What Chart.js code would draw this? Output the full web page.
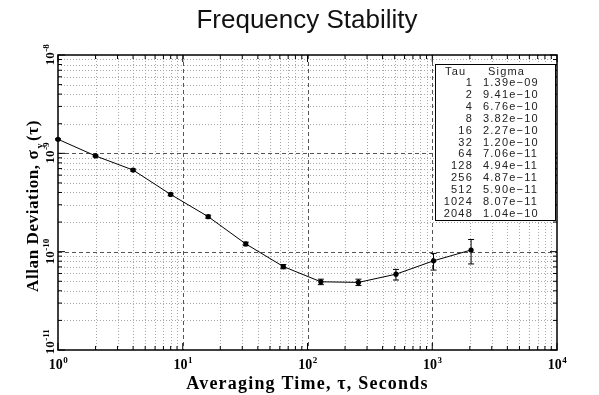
<!DOCTYPE html>
<html lang="en">
<head>
<meta charset="UTF-8">
<title>Frequency Stability</title>
<script src="https://cdn.jsdelivr.net/npm/chart.js@4.4.0/dist/chart.umd.min.js"></script>
<style>
  html, body { margin: 0; padding: 0; background: #fff; }
  canvas { display: block; }
</style>
</head>
<body>
<canvas id="chart" width="599" height="395"></canvas>
<script>
// averaging times and measured Allan deviation
const tau = [1, 2, 4, 8, 16, 32, 64, 128, 256, 512, 1024, 2048];
const sigma = [1.39e-9, 9.41e-10, 6.76e-10, 3.82e-10, 2.27e-10, 1.20e-10,
               7.06e-11, 4.94e-11, 4.87e-11, 5.90e-11, 8.07e-11, 1.04e-10];
// error bar ends
const sigmaHi = [1.41e-9, 9.6e-10, 6.92e-10, 3.93e-10, 2.35e-10, 1.25e-10,
                 7.4e-11, 5.25e-11, 5.25e-11, 6.6e-11, 9.6e-11, 1.33e-10];
const sigmaLo = [1.37e-9, 9.22e-10, 6.6e-10, 3.71e-10, 2.19e-10, 1.15e-10,
                 6.7e-11, 4.62e-11, 4.52e-11, 5.15e-11, 6.5e-11, 7.5e-11];

// axis decades and tick labels (exponents)
const xDecades = [1, 10, 100, 1000, 10000];
const xExp = ['0', '1', '2', '3', '4'];
const yDecades = [1e-11, 1e-10, 1e-9, 1e-8];
const yExp = ['-11', '-10', '-9', '-8'];

const SERIF = '"Liberation Serif", "DejaVu Serif", serif';
const SANS = '"Liberation Sans", Arial, sans-serif';

function fmtSigma(v) {
    const parts = v.toExponential(2).split('e');
    const n = parseInt(parts[1], 10);
    return parts[0] + 'e' + (n < 0 ? '\u2212' : '+') + String(Math.abs(n)).padStart(2, '0');
}

// "10" with a superscript exponent, centred on x
function drawPow(ctx, exp, x, y, big, small) {
    ctx.font = 'bold ' + big + 'px ' + SERIF;
    const w1 = ctx.measureText('10').width;
    ctx.font = 'bold ' + small + 'px ' + SERIF;
    const w2 = ctx.measureText(exp).width;
    const start = x - (w1 + w2) / 2;
    ctx.textAlign = 'left';
    ctx.textBaseline = 'alphabetic';
    ctx.font = 'bold ' + big + 'px ' + SERIF;
    ctx.fillText('10', start, y);
    ctx.font = 'bold ' + small + 'px ' + SERIF;
    ctx.fillText(exp, start + w1 + 0.5, y - big * 0.42);
}

const framePlugin = {
    id: 'frame',
    beforeDraw(chart) {
        const ctx = chart.ctx;
        const xs = chart.scales.x, ys = chart.scales.y;
        const a = chart.chartArea;
        ctx.save();
        ctx.fillStyle = '#fff';
        ctx.fillRect(0, 0, chart.width, chart.height);

        // minor grid
        ctx.lineWidth = 1;
        ctx.strokeStyle = '#a8a8a8';
        ctx.setLineDash([1, 2]);
        for (let d = 0; d < xDecades.length - 1; d++) {
            for (let k = 2; k <= 9; k++) {
                const px = Math.round(xs.getPixelForValue(xDecades[d] * k)) + 0.5;
                ctx.beginPath(); ctx.moveTo(px, a.top); ctx.lineTo(px, a.bottom); ctx.stroke();
            }
        }
        for (let d = 0; d < yDecades.length - 1; d++) {
            for (let k = 2; k <= 9; k++) {
                const py = Math.round(ys.getPixelForValue(yDecades[d] * k)) + 0.5;
                ctx.beginPath(); ctx.moveTo(a.left, py); ctx.lineTo(a.right, py); ctx.stroke();
            }
        }
        // major grid
        ctx.strokeStyle = '#555';
        ctx.setLineDash([4, 3]);
        xDecades.slice(1, -1).forEach(v => {
            const px = Math.round(xs.getPixelForValue(v)) + 0.5;
            ctx.beginPath(); ctx.moveTo(px, a.top); ctx.lineTo(px, a.bottom); ctx.stroke();
        });
        yDecades.slice(1, -1).forEach(v => {
            const py = Math.round(ys.getPixelForValue(v)) + 0.5;
            ctx.beginPath(); ctx.moveTo(a.left, py); ctx.lineTo(a.right, py); ctx.stroke();
        });
        ctx.restore();
    },
    afterDatasetsDraw(chart) {
        const ctx = chart.ctx;
        const xs = chart.scales.x, ys = chart.scales.y;
        const a = chart.chartArea;
        ctx.save();

        // error bars
        ctx.strokeStyle = '#000';
        ctx.lineWidth = 1;
        ctx.setLineDash([]);
        tau.forEach((t, i) => {
            const px = xs.getPixelForValue(t);
            const top = ys.getPixelForValue(sigmaHi[i]);
            const bot = ys.getPixelForValue(sigmaLo[i]);
            ctx.beginPath();
            ctx.moveTo(px, top); ctx.lineTo(px, bot);
            ctx.moveTo(px - 3, top); ctx.lineTo(px + 3, top);
            ctx.moveTo(px - 3, bot); ctx.lineTo(px + 3, bot);
            ctx.stroke();
        });

        // plot frame
        ctx.lineWidth = 1.5;
        ctx.strokeRect(a.left, a.top, a.right - a.left, a.bottom - a.top);

        // inward tick marks
        ctx.lineWidth = 1;
        ctx.beginPath();
        for (let d = 0; d < xDecades.length; d++) {
            for (let k = 1; k <= (d < xDecades.length - 1 ? 9 : 1); k++) {
                const px = xs.getPixelForValue(xDecades[d] * k);
                const len = k === 1 ? 7 : 4;
                ctx.moveTo(px, a.bottom); ctx.lineTo(px, a.bottom - len);
                ctx.moveTo(px, a.top); ctx.lineTo(px, a.top + len);
            }
        }
        for (let d = 0; d < yDecades.length; d++) {
            for (let k = 1; k <= (d < yDecades.length - 1 ? 9 : 1); k++) {
                const py = ys.getPixelForValue(yDecades[d] * k);
                const len = k === 1 ? 7 : 4;
                ctx.moveTo(a.left, py); ctx.lineTo(a.left + len, py);
                ctx.moveTo(a.right, py); ctx.lineTo(a.right - len, py);
            }
        }
        ctx.stroke();

        // table legend
        const bx = 435, by = 64, bw = 120, bh = 156;
        ctx.fillStyle = '#fff';
        ctx.fillRect(bx, by, bw, bh);
        ctx.strokeRect(bx + 0.5, by + 0.5, bw, bh);
        ctx.fillStyle = '#222';
        ctx.font = '11px ' + SANS;
        ctx.letterSpacing = '1.2px';
        ctx.textBaseline = 'middle';
        ctx.textAlign = 'left';
        ctx.fillText('Tau', 445, 72);
        ctx.fillText('Sigma', 488, 72);
        tau.forEach((t, i) => {
            const ry = 83 + i * 11.9;
            ctx.textAlign = 'right';
            ctx.fillText(String(t), 473, ry);
            ctx.textAlign = 'left';
            ctx.fillText(fmtSigma(sigma[i]), 483, ry);
        });
        ctx.letterSpacing = '0px';

        // x tick labels
        ctx.fillStyle = '#000';
        xDecades.forEach((v, i) => {
            drawPow(ctx, xExp[i], xs.getPixelForValue(v), a.bottom + 19, 14, 9);
        });

        // y tick labels (rotated)
        yDecades.forEach((v, i) => {
            let py = ys.getPixelForValue(v);
            if (py > a.bottom - 8) py = a.bottom - 8;
            ctx.save();
            ctx.translate(54, py);
            ctx.rotate(-Math.PI / 2);
            drawPow(ctx, yExp[i], 0, 0, 13, 9);
            ctx.restore();
        });

        // x axis title
        ctx.font = 'bold 18px ' + SERIF;
        ctx.letterSpacing = '1.2px';
        ctx.textAlign = 'center';
        ctx.textBaseline = 'alphabetic';
        ctx.fillText('Averaging Time, \u03c4, Seconds', (a.left + a.right) / 2, 389);

        // y axis title with subscript y
        ctx.save();
        ctx.translate(38, 206);
        ctx.rotate(-Math.PI / 2);
        ctx.letterSpacing = '0.6px';
        const p1 = 'Allan Deviation, \u03c3', p3 = '(\u03c4)';
        ctx.font = 'bold 17px ' + SERIF;
        const w1 = ctx.measureText(p1).width, w3 = ctx.measureText(p3).width;
        ctx.font = 'bold 10px ' + SERIF;
        const w2 = ctx.measureText('y').width;
        const sx = -(w1 + w2 + w3 + 3) / 2;
        ctx.textAlign = 'left';
        ctx.font = 'bold 17px ' + SERIF;
        ctx.fillText(p1, sx, 0);
        ctx.font = 'bold 10px ' + SERIF;
        ctx.fillText('y', sx + w1 + 1, 5);
        ctx.font = 'bold 17px ' + SERIF;
        ctx.fillText(p3, sx + w1 + w2 + 3, 0);
        ctx.restore();

        // title
        ctx.letterSpacing = '0px';
        ctx.font = '26px ' + SANS;
        ctx.textAlign = 'center';
        ctx.textBaseline = 'middle';
        ctx.fillStyle = '#111';
        ctx.fillText('Frequency Stability', 307, 21);
        ctx.restore();
    }
};

const points = tau.map((t, i) => ({ x: t, y: sigma[i] }));

new Chart(document.getElementById('chart'), {
    type: 'line',
    data: {
        datasets: [{
            data: points,
            borderColor: '#000',
            borderWidth: 1,
            backgroundColor: '#000',
            pointRadius: 2.6,
            pointBackgroundColor: '#000',
            pointBorderWidth: 0,
            tension: 0,
            fill: false,
            clip: 6
        }]
    },
    options: {
        responsive: false,
        animation: false,
        layout: { padding: { left: 58, top: 55, right: 42, bottom: 45 } },
        plugins: { legend: { display: false }, tooltip: { enabled: false }, title: { display: false } },
        scales: {
            x: { type: 'logarithmic', min: 1, max: 10000, display: false },
            y: { type: 'logarithmic', min: 1e-11, max: 1e-8, display: false }
        }
    },
    plugins: [framePlugin]
});
</script>
</body>
</html>
